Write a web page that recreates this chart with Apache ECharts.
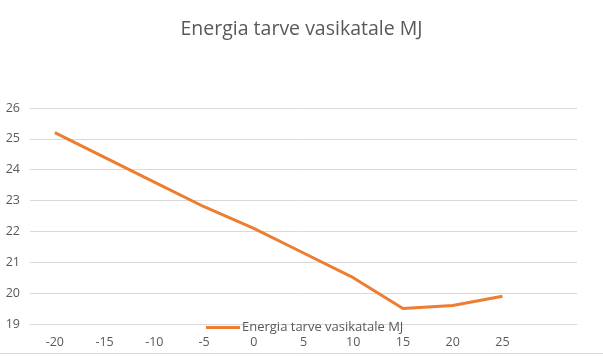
<!DOCTYPE html>
<html><head><meta charset="utf-8">
<script src="https://cdn.jsdelivr.net/npm/echarts@6/dist/echarts.min.js"></script>
<style>html,body{margin:0;padding:0;background:#fff}#c{width:603px;height:357px}</style>
</head><body><div id="c"></div>
<script>
const categories = ['-20','-15','-10','-5','0','5','10','15','20','25',''];
const values = [25.2, 24.4, 23.6, 22.8, 22.1, 21.3, 20.5, 19.5, 19.6, 19.9];
const seriesName = 'Energia tarve vasikatale MJ';
const titleText = 'Energia tarve vasikatale MJ';
const FONT = '"Open Sans", sans-serif';
const chart = echarts.init(document.getElementById('c'));
chart.setOption({
  animation: false,
  title: {text: titleText, left: 'center', top: 19, padding: 0,
    textStyle: {fontFamily: FONT, fontSize: 19.5, fontWeight: 'normal', color: '#595959'}},
  grid: {left: 30, right: 26, top: 108, bottom: 33},
  legend: {data: [seriesName], left: 206, top: 321, padding: 0, itemWidth: 34, itemHeight: 3, itemGap: 2,
    icon: 'rect',
    textStyle: {fontFamily: FONT, fontSize: 13, color: '#595959', padding: [0,0,0,-3]}},
  xAxis: {type: 'category', data: categories, boundaryGap: true,
    axisLine: {show: true, lineStyle: {color: '#d9d9d9'}}, axisTick: {show: false},
    axisLabel: {fontFamily: FONT, fontSize: 12.5, color: '#595959', margin: 12}},
  yAxis: {type: 'value', min: 19, max: 26, interval: 1,
    axisLine: {show: false}, axisTick: {show: false},
    splitLine: {lineStyle: {color: '#d9d9d9'}},
    axisLabel: {fontFamily: FONT, fontSize: 12.5, color: '#595959', margin: 10}},
  series: [{name: seriesName, type: 'line', data: values, symbol: 'none',
    lineStyle: {color: '#ED7D31', width: 3}, itemStyle: {color: '#ED7D31'}}],
  graphic: [{type: 'line', shape: {x1: 0, y1: 353.5, x2: 603, y2: 353.5}, style: {stroke: '#d9d9d9', lineWidth: 1}}]
});
</script></body></html>
